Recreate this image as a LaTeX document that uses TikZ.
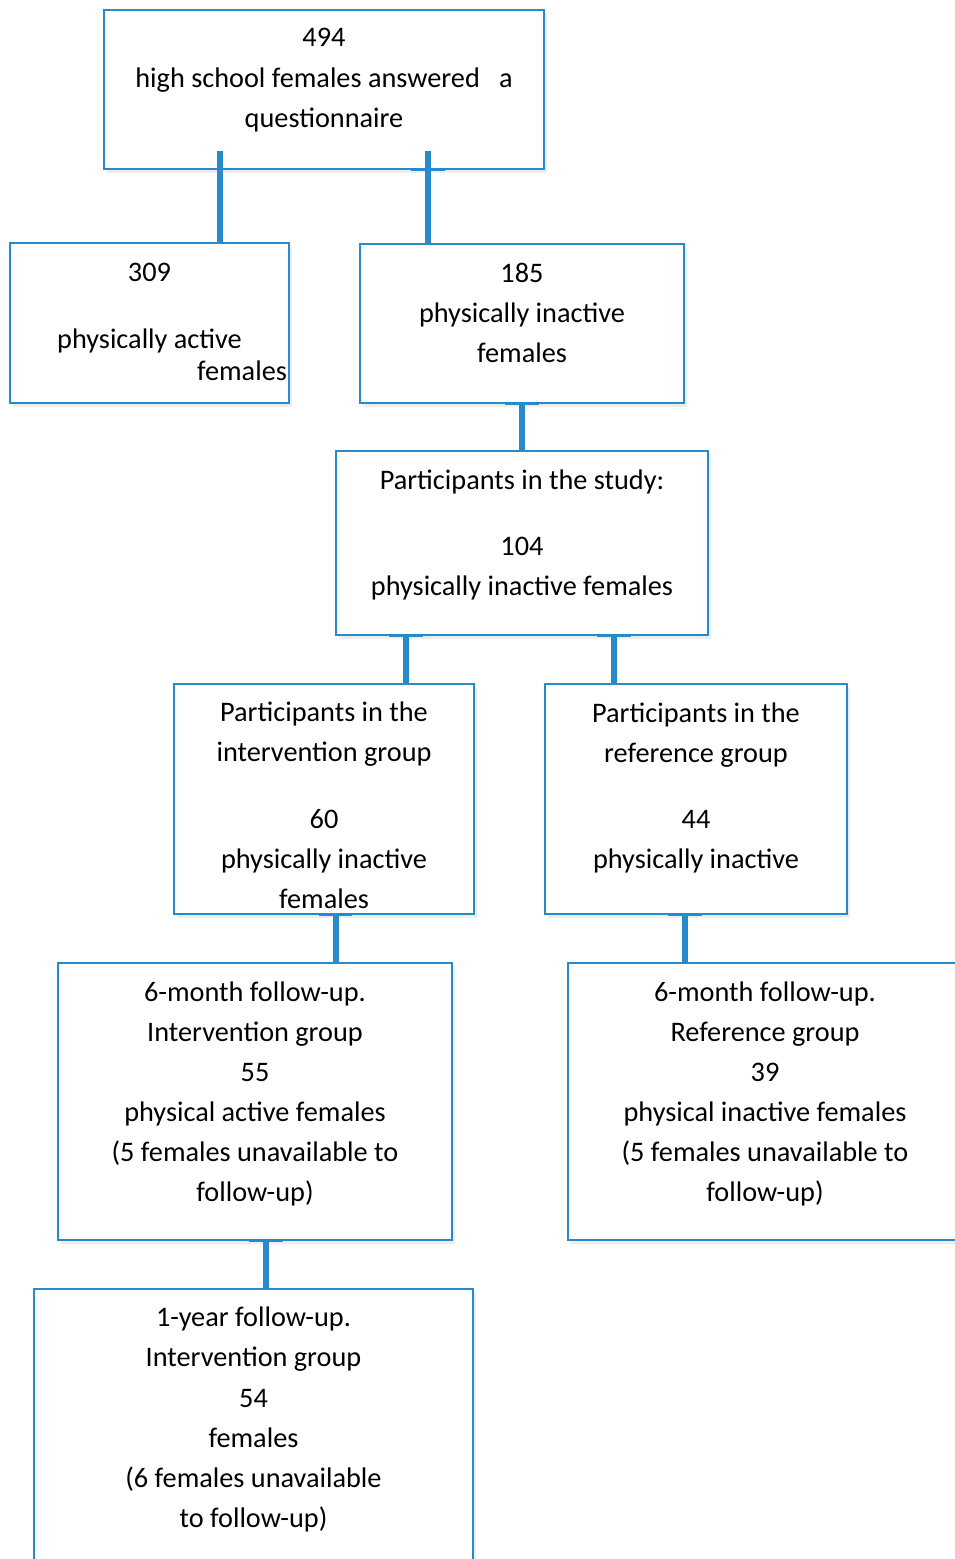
\documentclass[tikz,border=0pt]{standalone}
\usepackage{fontspec}
\setmainfont{Carlito}
\usetikzlibrary{shadows}

\definecolor{linkblue}{RGB}{41,138,201}
\newcommand{\boxlines}[2][0.16cm]{\raisebox{#1}[\height][\depth]{\begin{tabular}{@{}c@{}}#2\end{tabular}}}

\begin{document}
\begin{tikzpicture}[x=0.02cm, y=-0.02cm,
		box/.style = {shape=rectangle, draw=linkblue, line width=0.04cm, fill=white,
			inner sep=0pt, text=black, font=\fontsize{16.1}{22.8}\selectfont,
			drop shadow={shadow xshift=0.06cm, shadow yshift=-0.08cm, opacity=0.14}},
		link/.style = {draw=linkblue, line width=0.12cm},
		tick/.style = {draw=linkblue, line width=0.06cm}]

	\useasboundingbox (0,0) rectangle (955,1559);

	\node[box, minimum width=8.8cm, minimum height=3.18cm] (boxA) at (324,89.5)
		{\boxlines[0.21cm]{494\\high school females answered\ \ \ a\\questionnaire}};
	\node[box, minimum width=5.58cm, minimum height=3.2cm] (boxB) at (149.5,323)
		{\boxlines[0cm]{309\\[0.52cm]physically active\\[-0.16cm]\hspace*{3.7cm}females}};
	\node[box, minimum width=6.48cm, minimum height=3.18cm] (boxC) at (522,323.5)
		{\boxlines[0.18cm]{185\\physically inactive\\females}};
	\node[box, minimum width=7.44cm, minimum height=3.68cm] (boxD) at (522,543)
		{\boxlines[0.17cm]{Participants in the study:\\[0.5cm]104\\physically inactive females}};
	\node[box, minimum width=6cm, minimum height=4.6cm] (boxE) at (324,799)
		{\boxlines[-0.16cm]{Participants in the\\intervention group\\[0.52cm]60\\physically inactive\\females}};
	\node[box, minimum width=6.04cm, minimum height=4.6cm] (boxF) at (696,799)
		{\boxlines[0.23cm]{Participants in the\\reference group\\[0.52cm]44\\physically inactive}};
	\node[box, minimum width=7.88cm, minimum height=5.54cm] (boxG) at (255,1101.5)
		{\boxlines{6-month follow-up.\\Intervention group\\55\\physical active females\\(5 females unavailable to\\follow-up)}};
	\node[box, minimum width=7.88cm, minimum height=5.54cm] (boxH) at (765,1101.5)
		{\boxlines{6-month follow-up.\\Reference group\\39\\physical inactive females\\(5 females unavailable to\\follow-up)}};
	\node[box, minimum width=8.78cm, minimum height=5.54cm] (boxI) at (253.5,1427.5)
		{\boxlines[0.17cm]{1-year follow-up.\\Intervention group\\54\\females\\(6 females unavailable\\to follow-up)}};

	% connectors: parent/child/x offset/start above parent bottom/tick
	\foreach \from/\to/\dx/\up/\t in {boxA/boxB/-2.09/0.38/0, boxA/boxC/2.09/0.38/1,
			boxC/boxD/0/0/1, boxD/boxE/-2.32/0/1, boxD/boxF/1.85/0/1,
			boxE/boxG/0.23/0/1, boxF/boxH/-0.23/0/1, boxG/boxI/0.22/0/1}
	{
		\coordinate (top) at ([xshift=\dx cm]\from.south);
		\draw[link] ([yshift=\up cm]top) -- (top |- \to.north);
		\ifnum\t=1 \draw[tick] ([xshift=-0.34cm]top) -- ([xshift=0.34cm]top); \fi
	}
\end{tikzpicture}
\end{document}
